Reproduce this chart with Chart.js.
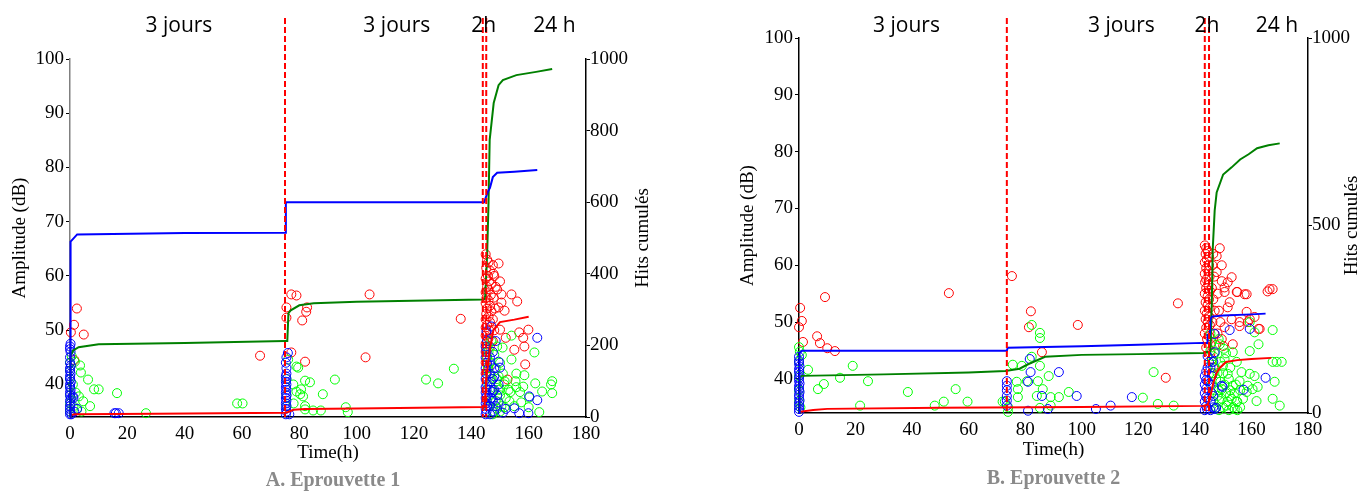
<!DOCTYPE html>
<html>
<head>
<meta charset="utf-8">
<script src="https://cdn.jsdelivr.net/npm/chart.js@4.4.1/dist/chart.umd.min.js"></script>
<style>
  body { margin: 0; background: #fff; width: 1360px; height: 492px; overflow: hidden; position: relative; }
  .panel { position: absolute; top: 0; width: 680px; height: 492px; }
</style>
</head>
<body>
<div class="panel" style="left:0"><canvas id="chartA" width="680" height="492"></canvas></div>
<div class="panel" style="left:680px"><canvas id="chartB" width="680" height="492"></canvas></div>
<script>
// axes
var timeTicks = [0, 20, 40, 60, 80, 100, 120, 140, 160, 180];
var ampTicks = [40, 50, 60, 70, 80, 90, 100];
var hitTicksA = [0, 200, 400, 600, 800, 1000];
var hitTicksB = [0, 500, 1000];

// phases written above each panel
var phaseLabels = ['3 jours', '3 jours', '2h', '24 h'];
var phaseTimes = [38, 114, 144.3, 169];
var markerTimesA = [75, 144, 145.2];
var markerTimesB = [73.5, 143.5, 145];

// Eprouvette 1 : hits [time (h), amplitude (dB)]
var redA = [
  [0.3,49.6],[1.4,51.0],[2.4,54.0],[4.8,49.2],[1.5,44.5],[66.3,45.3],
  [75.5,54.2],[75.5,52.3],[77.2,56.6],[79,56.4],[82.7,54.2],[82.4,53.4],[81,51.8],[77.2,45.9],[82,44.2],[104.5,56.6],[103.1,45.0],[136.3,52.1],
  [145,64],[145.5,63],[146,62.5],[145.2,61.5],[146.5,61],[145.8,60],[145,59.5],[146.2,59],[147,58.5],[145.5,58],[146,57.5],[145,57],[146.8,56.5],[145.3,56],[146,55.5],[145,55],[146.5,54.5],[145.5,54],[147,53.5],[145.2,53],[146,52.5],[145,52],[146.5,51.5],[145.5,51],[145,50.5],[146.2,50],[145.3,49.5],[145,49],[146,48.5],[145.5,48],[145,47.5],[146.5,47],[145.2,46.5],[145,46],[145.5,45],[145,44],[146,43],[145,42],[147.5,62],[148,60],[148.5,58],[147.8,56],[148.2,54],[147.5,52],[148,50],[147.5,48],
  [149.5,62.3],[147.7,60.4],[150.5,56.6],[154,56.6],[156,55.3],[150.5,55.1],[151.6,53.6],[149.5,54.2],[150,50.1],[159.9,50.1],[156.7,49.6],[158.1,48.6],[158.5,47.0],[155,46.4],[158.8,43.7],[152.6,40.9],[152,48.6],[149,57.5],[150,59]
];
var greenA = [
  [0,35],[0,36.5],[0,38],[0,39.5],[0,41],[0,42.5],[0,44],[0.6,45.2],[1.7,44.2],[3.5,43.5],[3.8,42.2],[6.3,40.9],[8.4,39.1],[10,39.1],[16.4,38.4],[7,36],[4.6,36.9],[3.1,37.8],[26.5,34.7],[58.3,36.5],[60.2,36.5],[2.4,35.4],[4,35.0],[1,40],[2,38.5],[1.2,36],
  [76.1,44.6],[79,43.3],[79.6,43.1],[77.9,40.0],[79,38.7],[80.6,39.1],[82,40.7],[83.7,40.4],[88.2,38.2],[92.4,40.9],[80.3,38.2],[81.3,37.8],[82,36.0],[82,35.4],[84.8,35.2],[87.5,35.2],[96.2,35.8],[96.9,34.9],[124.2,40.9],[128.4,40.2],[133.9,42.9],[75.5,41],[75.5,38],[75.5,36],[78,36.5],
  [145.5,47],[146,46],[145.5,45],[146.5,44],[145.8,43],[146.2,42],[147,41],[146,40],[147.5,39],[146.5,38],[147,37],[146,36],[148,35],[147.5,34.5],[148.5,43],[149,41],[149.5,39],[148.5,37],[149,35.5],[150,38],[150.5,36],[148,45.5],[149,47],[147,48],[150,44],[151,42],[151.5,40],[150,35],[152,37.5],[153,39],
  [154,49.0],[150.9,46.8],[162,45.9],[154,44.6],[155.7,42.0],[158.5,41.7],[155.4,40.6],[162.3,40.2],[168.2,40.6],[167.8,40.0],[168.2,38.4],[164.7,38.7],[155.7,39.5],[158.1,39.6],[153.6,38.6],[160.2,37.6],[157.4,36.7],[163.7,34.9],[153.3,36.9],[155,36.0],[151.6,35.8],[160,35.8],[151.6,40.6],[149.5,41.5],[150,39.1],[157,38.6]
];
var blueA = [
  [0,34.5],[0,35],[0,35.5],[0,36],[0.2,36.5],[0,37],[0.3,37.5],[0,38],[0,38.5],[0.2,39],[0,39.5],[0,40],[0.3,40.5],[0,41],[0,41.5],[0.2,42],[0,42.5],[0,43],[0.3,43.5],[0,44],[0,45],[0.2,46],[0,46.5],[0,47],[0.2,47.5],[1,37.8],[1.2,37.5],[2.5,35.5],[1.5,35],[0.5,34.5],
  [15.5,34.7],[16,34.7],[17,34.7],
  [75.3,34.5],[75.5,35],[75.3,35.5],[75.5,36],[75.3,36.5],[75.5,37],[75.3,37.5],[75.5,38],[75.3,38.5],[75.5,39],[75.3,39.5],[75.5,40],[75.3,40.5],[75.5,41],[75.3,41.5],[75.5,42],[75.5,43],[75.3,44],[75.5,45],[76,45.8],[76.5,34.5],
  [145,34.5],[145.3,35],[145,35.5],[145.5,36],[145,36.5],[145.3,37],[145,37.5],[145.5,38],[145,38.5],[145.3,39],[145,39.5],[145.5,40],[145,41],[145.3,42],[145,43],[145.5,44],[145,45],[145.3,46],[145,47],[145.5,48],[145.3,49.8],[147,50.7],[146.5,34.5],[146.5,36],[146.8,37.5],[146.5,39],[146.8,40.5],[146.5,42],[146.8,43.5],[146.5,45],[147.5,35],[147.5,37],[148,39],[147.5,41],[148,43],[147.5,46],[148.5,48],[148.5,36],[149,38],[149.5,40],[150,43.1],[149.5,44.2],[148,41.5],[147.5,38.6],[149.5,36.7],
  [163,48.6],[160.2,37.8],[163,37.1],[155,35.6],[156.7,34.7],[159.9,34.7],[151,34.8],[152,35.5]
];
// Eprouvette 1 : cumulated hits [time (h), hits]
var blueCumA = [[0,0],[0.2,490],[1,497],[2.5,510],[40,514],[75,515],[75.3,600],[144.5,600],[145,612],[145.8,630],[146.5,640],[147.5,670],[149,682],[155,685],[163,690]];
var greenCumA = [[0,0],[0.2,170],[1,185],[3,195],[10,203],[40,207],[75,212],[75.8,212],[76.2,290],[77,298],[80,312],[85,318],[100,322],[144,328],[144.8,330],[145.5,450],[146,600],[146.4,774],[147.8,877],[149.5,927],[151,941],[155.7,955],[162.6,964],[168.2,972]];
var redCumA = [[0,0],[0.3,6],[2,8],[30,9],[75,12],[76,14],[78,20],[82,22],[100,24],[144,28],[144.6,30],[145.3,112],[146.4,187],[147.7,243],[150,265],[155,272],[160,280]];

// Eprouvette 2 : hits [time (h), amplitude (dB)]
var redB = [
  [0.4,52.5],[1,50.2],[0,49.1],[1.4,46.5],[9.2,54.4],[6.4,47.5],[7.4,46.3],[10,45.4],[12.7,44.9],[53,55.1],[75.3,58.1],
  [82,51.9],[81.3,49.1],[98.6,49.5],[85.9,44.7],[134,53.3],[129.7,40.2],
  [143.5,63.5],[144,63],[144.5,62.5],[143.8,62],[145,61.5],[144.2,61],[143.5,60.5],[145,60],[144,59.5],[144.8,59],[143.5,58.5],[145.2,58],[144,57.5],[143.6,57],[144.8,56.5],[144,56],[145.3,55.5],[143.5,55],[144.5,54.5],[145,54],[143.8,53.5],[144.5,53],[145.2,52.5],[143.5,52],[144.2,51.5],[145,51],[143.8,50.5],[144.5,50],[145.3,49.5],[144,49],[143.5,48],[145,47.5],[144.3,47],[145.5,46],[144,45.5],[145.5,44.5],[146,43.5],[146.5,42],[146,41],[146.5,62],[146.2,60],[146.8,58],[146,56],[146.5,54],[147,52],[146.2,50],[146.8,48],[147.5,46],
  [148.8,63.0],[149.5,60.0],[153,57.9],[155,55.3],[158.3,54.9],[166.4,55.8],[150.5,56.1],[147.7,61.6],[147.7,58.8],[151.6,52.6],[153,50.5],[155.8,50.0],[159.4,50.5],[153.4,46.1],[150,45.8],[150.5,49.1],[162.9,48.8],
  [157.6,54.9],[154.8,55.3],[165.7,55.4],[167.5,55.8],[158.3,51.8],[161.1,50.9],[158.7,50],[162.5,48.8],[155.8,49.3],[150.5,55.3],[152.3,53.5],[149.5,57.2],[151.6,57],[148,55],[148.5,52],[149,50],[148,48],[149.5,47]
];
var greenB = [
  [0,45.6],[1,44.2],[3.2,41.6],[6.7,38.2],[8.8,39.1],[14.5,40.2],[19,42.3],[24.4,39.6],[21.6,35.3],[38.5,37.7],[48,35.3],[51.2,36.0],[55.4,38.2],[59.6,36.0],[72,36],[73.9,34.2],[0,40.5],[0,43],[0,38],[0,36],[0.5,35],[0.3,44.8],
  [82.3,49.5],[85.2,48.1],[85.2,47.2],[75.6,42.5],[78.8,42.3],[82.3,43.9],[85.2,42.3],[88.3,40.5],[77,39.5],[80.6,39.6],[84.5,39.6],[77.4,38.2],[86.2,38.2],[77.4,36.8],[84.1,37.0],[89,36.8],[91.9,36.8],[95.4,37.7],[85.2,34.9],[89,35.3],[125.4,41.2],[121.6,36.7],[126.9,35.6],[132.5,35.3],[72.8,36],[74,35],
  [145.5,48],[146,46.5],[145.5,45],[146.5,44],[146,43],[147,42],[146.5,41],[147.5,40],[146,39],[147,38],[148,37],[146.5,36],[147.5,35],[148.5,34.5],[148,41],[149,39.5],[148.5,38],[149.5,36.5],[150,35],[149,43],[150,41],[150.5,39],[151,37.5],[151.5,36],[152,34.5],[150.5,43.5],[152,40],[152.5,38],[153,36.5],[153.5,35],[154,37.5],[155,36],[156,35],[154.5,39],[156,38],[157,36.5],[155,34.5],[151,44.5],[152.5,42],[147,44.5],
  [167.5,48.6],[161.1,48.2],[159.4,50],[162.5,46.1],[159.4,44.9],[167.5,43.0],[170.7,43],[168.9,43],[154.8,43],[161.1,40.5],[159.4,40.9],[168.2,39.5],[167.5,36.5],[170,35.3],[162.2,38.6],[161.8,36.1],[158.7,38.8],[160.4,38.2],[155.8,39.6],[153.4,38.8],[152.3,37],[154.8,36],[151.2,35.3],[149.5,38.2],[149.9,42.3],[153.4,44.7],[156.5,41.2],[151.6,40.9],[158.3,37.7],[154.1,34.7],[148.8,36.1],[148.8,46.1],[148.4,47.0],[150.2,45.3]
];
var blueB = [
  [0,34.2],[0,34.7],[0,35.2],[0,35.7],[0.2,36.2],[0,36.7],[0,37.2],[0.2,37.7],[0,38.2],[0,38.7],[0.2,39.2],[0,39.7],[0,40.2],[0.2,40.7],[0,41.2],[0,41.7],[0.2,42.2],[0,42.7],[0,43.2],[0,43.9],
  [73.5,35.3],[73.5,36.2],[73.5,37.0],[73.5,38.0],[73.5,38.8],[73.5,39.6],
  [81.6,43.5],[81.9,41.2],[81,39.5],[91.9,41.2],[85.9,37.0],[98.2,37.0],[117.7,36.8],[110.2,35.3],[105,34.7],[88,34.7],[81,34.4],
  [143.5,34.5],[144,35.2],[143.5,36],[144,36.8],[143.5,37.5],[144,38.3],[143.5,39],[144,39.8],[143.5,40.5],[144,41.3],[144.5,42],[145,43],[144.5,44],[145.5,34.5],[145.5,36],[146,37.5],[145.5,39],[146,40.5],[145.5,42],[146.5,35],[146.5,37],[147,34.7],
  [152.3,48.6],[159.4,48.8],[165,40.2],[157.2,38.1],[149.8,38.6],[147,44.7],[147,47.9],[146.5,43],[147.5,34.9],[144.5,39.6],[144.5,36.5],[144.3,34.7],[149.5,38.8]
];
// Eprouvette 2 : cumulated hits
var blueCumB = [[0,0],[0.2,160],[1,166],[73.5,166],[73.8,174],[100,178],[120,182],[143,187],[144.3,187],[144.5,209],[145.3,209],[145.5,250],[146,257],[150,260],[160,263],[165,265]];
var greenCumB = [[0,0],[0.2,95],[1,99],[30,103],[60,108],[73,112],[78,118],[81,130],[87,150],[100,155],[120,157],[143,160],[145.5,165],[146,300],[146.3,436],[147,540],[147.7,588],[150,636],[153,655],[156,676],[159,690],[162,706],[166,714],[170,719]];
var redCumB = [[0,0],[0.3,3],[5,8],[10,11],[50,14],[100,16],[143,19],[144.5,22],[145.2,35],[146.5,80],[147.7,107],[148.8,120],[151,136],[155,141],[160,144],[167,147]];

function toXY(arr) {
  return arr.map(function (p) { return { x: p[0], y: p[1] }; });
}

var serif = 'Liberation Serif';

// dashed markers, phase names, right title and caption
var overlay = {
  id: 'overlay',
  afterDatasetsDraw: function (chart, args, o) {
    var ctx = chart.ctx, area = chart.chartArea, xs = chart.scales.x;
    ctx.save();
    ctx.strokeStyle = '#ff0000';
    ctx.lineWidth = 2;
    ctx.setLineDash([6, 3]);
    o.markers.forEach(function (t) {
      var x = xs.getPixelForValue(t);
      ctx.beginPath();
      ctx.moveTo(x, 18);
      ctx.lineTo(x, area.bottom);
      ctx.stroke();
    });
    ctx.setLineDash([]);
    ctx.fillStyle = '#000';
    ctx.font = '21px "Open Sans"';
    ctx.textAlign = 'center';
    ctx.textBaseline = 'alphabetic';
    phaseLabels.forEach(function (txt, i) {
      ctx.fillText(txt, xs.getPixelForValue(phaseTimes[i]), 32);
    });
    // right axis title, reading upwards
    ctx.save();
    ctx.translate(area.right + o.rightTitleOffset, (area.top + area.bottom) / 2);
    ctx.rotate(-Math.PI / 2);
    ctx.font = '19px "' + serif + '"';
    ctx.textBaseline = 'middle';
    ctx.fillText('Hits cumulés', 0, 0);
    ctx.restore();
    // caption
    ctx.fillStyle = '#8a8a8a';
    ctx.font = 'bold 20px "' + serif + '"';
    ctx.fillText(o.caption, (area.left + area.right) / 2 + o.captionShift, o.captionY);
    ctx.restore();
  }
};

function plain(v) { return String(v); }

function makeChart(id, p) {
  var line = function (data, color) {
    return { data: toXY(data), yAxisID: 'y2', showLine: true, borderColor: color, borderWidth: 2,
             pointRadius: 0, order: 0, clip: false };
  };
  var dots = function (data, color, order) {
    return { data: toXY(data), yAxisID: 'y', borderColor: color, backgroundColor: 'rgba(0,0,0,0)',
             pointRadius: 4.5, borderWidth: 1, order: order, clip: false };
  };
  var tickFont = { family: serif, size: 19 };
  return new Chart(document.getElementById(id), {
    type: 'scatter',
    data: {
      datasets: [
        line(p.blueCum, '#0000ff'),
        line(p.greenCum, '#008000'),
        line(p.redCum, '#ff0000'),
        dots(p.blue, '#0000ff', 1),
        dots(p.green, '#00ff00', 2),
        dots(p.red, '#ff0000', 3)
      ]
    },
    options: {
      responsive: false,
      animation: false,
      layout: { padding: { top: p.top, left: 0, right: 0, bottom: 0 } },
      plugins: {
        legend: { display: false },
        tooltip: { enabled: false },
        overlay: p.overlay
      },
      scales: {
        x: {
          type: 'linear', min: 0, max: 180,
          afterBuildTicks: function (s) { s.ticks = timeTicks.map(function (v) { return { value: v }; }); },
          afterFit: function (s) { s.height = p.xHeight; },
          ticks: { font: tickFont, color: '#000', padding: 6, maxRotation: 0, callback: plain },
          grid: { drawOnChartArea: false, drawTicks: false },
          border: { color: '#000', width: 1.5 },
          title: { display: true, text: 'Time(h)', font: { family: serif, size: 19 }, color: '#000',
                   padding: { top: 0, bottom: p.xTitlePad } }
        },
        y: {
          type: 'linear', position: 'left', min: 34, max: 100,
          afterBuildTicks: function (s) { s.ticks = ampTicks.map(function (v) { return { value: v }; }); },
          afterFit: function (s) { s.width = p.leftWidth; },
          ticks: { font: tickFont, color: '#000', padding: 2, callback: plain },
          grid: { drawOnChartArea: false, tickLength: 4, color: '#000' },
          border: { color: p.leftAxisColor, width: 1.5 },
          title: { display: true, text: 'Amplitude (dB)', font: { family: serif, size: 19 }, color: '#000',
                   padding: { top: p.yTitlePad, bottom: 0 } }
        },
        y2: {
          type: 'linear', position: 'right', min: 0, max: 1000,
          afterBuildTicks: function (s) { s.ticks = p.hitTicks.map(function (v) { return { value: v }; }); },
          afterFit: function (s) { s.width = p.rightWidth; },
          ticks: { font: tickFont, color: '#000', padding: 0, callback: plain },
          grid: { drawOnChartArea: false, tickLength: 4, color: '#000' },
          border: { color: '#000', width: 1.5 }
        }
      }
    },
    plugins: [overlay]
  });
}

makeChart('chartA', {
  red: redA, green: greenA, blue: blueA,
  redCum: redCumA, greenCum: greenCumA, blueCum: blueCumA,
  hitTicks: hitTicksA,
  top: 59, xHeight: 75, leftWidth: 70, rightWidth: 94,
  xTitlePad: 28, yTitlePad: 9, leftAxisColor: '#808080',
  overlay: { markers: markerTimesA, rightTitleOffset: 57, caption: 'A. Eprouvette 1', captionShift: 5, captionY: 486 }
});

makeChart('chartB', {
  red: redB, green: greenB, blue: blueB,
  redCum: redCumB, greenCum: greenCumB, blueCum: blueCumB,
  hitTicks: hitTicksB,
  top: 38, xHeight: 79, leftWidth: 119, rightWidth: 52,
  xTitlePad: 31, yTitlePad: 57, leftAxisColor: '#000',
  overlay: { markers: markerTimesB, rightTitleOffset: 44, caption: 'B. Eprouvette 2', captionShift: 0, captionY: 484 }
});
</script>
</body>
</html>
